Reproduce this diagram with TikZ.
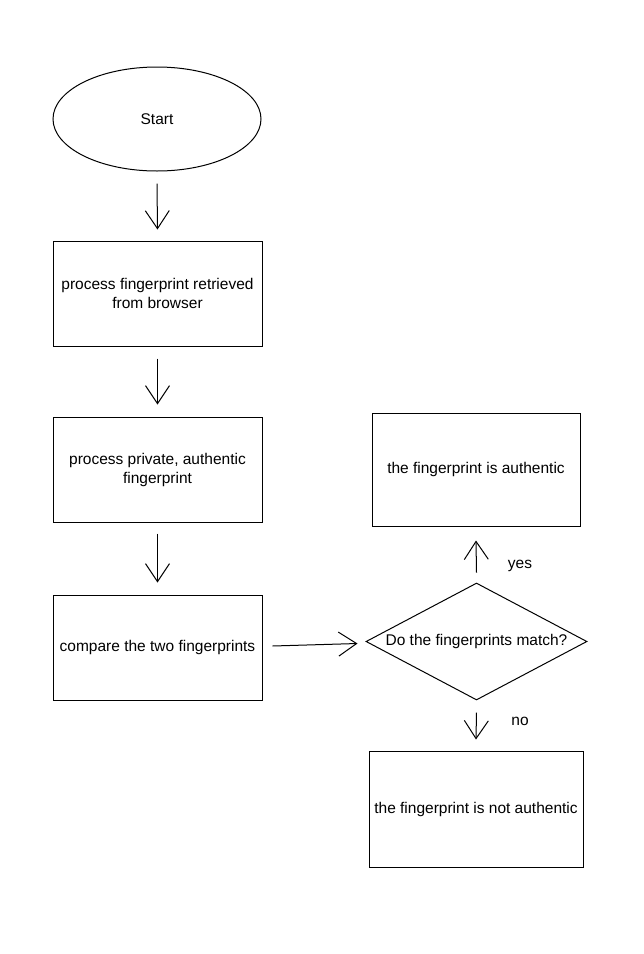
\documentclass[tikz,border=0pt]{standalone}
\usepackage{fontspec}
\setmainfont{Liberation Sans}
\usetikzlibrary{arrows.meta,shapes.geometric}
\begin{document}
\begin{tikzpicture}[x=1pt,y=-1pt,line width=1pt,
  every node/.style={font=\fontsize{15.5}{19}\selectfont},
  boxnode/.style={draw,rectangle,minimum width=209pt,minimum height=105pt,align=center,inner sep=0pt},
  flowarrow/.style={-{Straight Barb[length=18pt,width=24pt,line width=1pt]}},
  lbl/.style={inner sep=0pt}]
\useasboundingbox (0,0) rectangle (644,954);
\node[draw,ellipse,minimum width=208pt,minimum height=104pt,inner sep=0pt] (start) at (157,119) {Start};
\node[boxnode] (b1) at (157.5,293.5) {process fingerprint retrieved\\from browser};
\node[boxnode] (b2) at (157.5,469.5) {process private, authentic\\fingerprint};
\node[boxnode] (b3) at (157.5,647.5) {compare the two fingerprints};
\node[draw,diamond,aspect=1.89,minimum width=221pt,minimum height=117pt,inner sep=0pt] (dec) at (476.5,641.5) {Do the fingerprints match?};
\node[boxnode,minimum width=208pt,minimum height=113pt] (yesbox) at (476,469.5) {the fingerprint is authentic};
\node[boxnode,minimum width=214pt,minimum height=116pt] (nobox) at (476,809) {the fingerprint is not authentic};
\draw[flowarrow] ([yshift=-12pt]start.south) -- ([yshift=11pt]b1.north);
\draw[flowarrow] ([yshift=-12pt]b1.south) -- ([yshift=12pt]b2.north);
\draw[flowarrow] ([yshift=-11pt]b2.south) -- ([yshift=12pt]b3.north);
\draw[flowarrow] ([xshift=10pt,yshift=1.5pt]b3.east) -- ([xshift=-8pt,yshift=-2pt]dec.west);
\draw[flowarrow] ([yshift=10pt]dec.north) -- ([yshift=-14pt]yesbox.south);
\draw[flowarrow] ([yshift=-12pt]dec.south) -- ([yshift=11pt]nobox.north);
\node[lbl] (yes) at (520,566) {yes};
\node[lbl] (no) at (520,721) {no};
\end{tikzpicture}
\end{document}
